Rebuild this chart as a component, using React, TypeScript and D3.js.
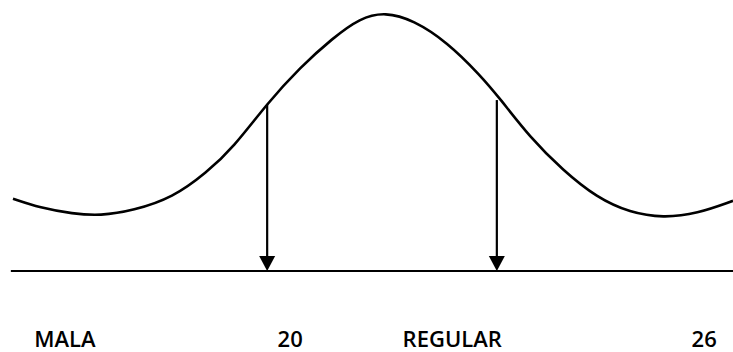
import * as d3 from "d3";
import { useRef, useEffect } from "react";

// chart size
const width = 733;
const height = 352;

// curve (x in 0..100, height above the base line in 0..100)
const curveX = [0, 3.75, 8.3, 12.1, 16.7, 22.2, 26.9, 30.6, 35.3, 39.9, 44.4, 48.2, 51.7, 55.6, 60.3, 64.9, 67.6, 71.8, 76.4, 81.1, 85.7, 90.3, 95, 100];
const curveY = [27.9, 24.4, 22.1, 21.3, 23.3, 28.3, 38.0, 47.7, 64.7, 78.7, 89.9, 97.7, 100, 96.9, 88.4, 75.6, 66.7, 51.6, 38.8, 28.3, 22.5, 20.5, 22.1, 27.1];

// the two arrows
const arrowX = [35.3, 67.2];
const arrowTop = [64.5, 66.0];

// labels under the base line
const labels = ["MALA", "20", "REGULAR", "26"];
const labelX = [7.2, 38.5, 61, 96];

const App = () => {
	const ref = useRef(null);

	useEffect(() => {
		const svg = d3.select(ref.current);
		svg.selectAll("*").remove();

		const x = d3.scaleLinear().domain([0, 100]).range([13, 733]);
		const y = d3.scaleLinear().domain([0, 100]).range([271, 12]);

		// base line
		svg.append("line")
			.attr("x1", x(-0.3))
			.attr("x2", width)
			.attr("y1", y(0))
			.attr("y2", y(0))
			.attr("stroke", "#000")
			.attr("stroke-width", 2.2);

		// bell curve
		const pts = curveX.map((d, i) => [d, curveY[i]]);
		const line = d3.line()
			.x((d) => x(d[0]))
			.y((d) => y(d[1]))
			.curve(d3.curveBasis);
		svg.append("path")
			.attr("d", line(pts))
			.attr("fill", "none")
			.attr("stroke", "#000")
			.attr("stroke-width", 2.6);

		// arrows down to the base line
		const headH = 15;
		const headW = 8;
		arrowX.forEach((a, i) => {
			const ax = x(a);
			svg.append("line")
				.attr("x1", ax)
				.attr("x2", ax)
				.attr("y1", y(arrowTop[i]))
				.attr("y2", y(0) - headH + 2)
				.attr("stroke", "#000")
				.attr("stroke-width", 2.2);
			svg.append("path")
				.attr("d", `M${ax - headW},${y(0) - headH}L${ax + headW},${y(0) - headH}L${ax},${y(0)}Z`)
				.attr("fill", "#000");
		});

		// labels
		svg.append("g")
			.selectAll("text")
			.data(labels)
			.enter()
			.append("text")
				.attr("x", (d, i) => x(labelX[i]))
				.attr("y", 347)
				.attr("text-anchor", "middle")
				.attr("font-family", "'Open Sans', Lato, sans-serif")
				.attr("font-weight", 600)
				.attr("font-size", 22)
				.attr("fill", "#000")
				.text((d) => d);
	}, []);

	return (
		<svg
			ref={ref}
			width={width}
			height={height}
			style={{ position: "absolute", left: 0, top: 0, display: "block", background: "#fff" }}
		/>
	);
};

export default App;
